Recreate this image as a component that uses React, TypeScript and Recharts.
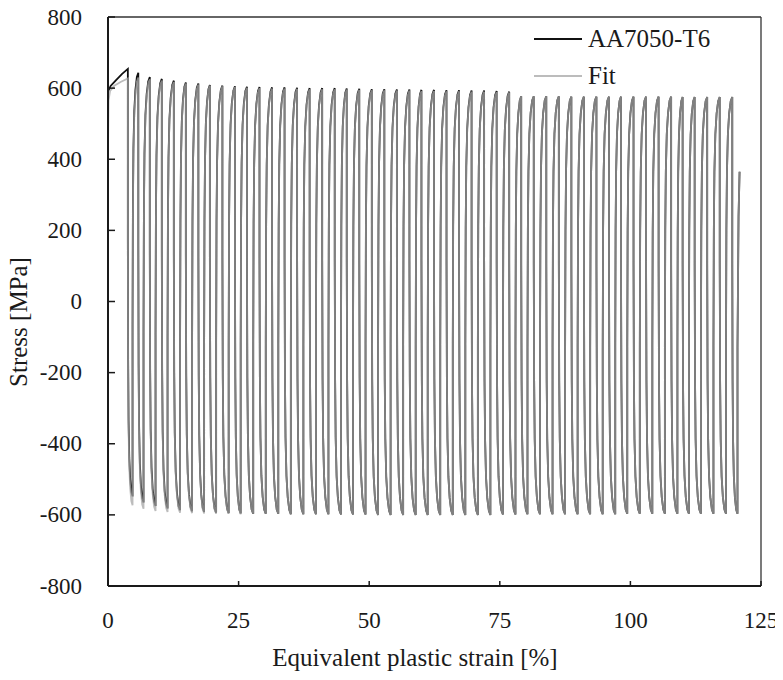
import { LineChart, Line, XAxis, YAxis, ReferenceLine, Legend } from 'recharts';

// equivalent plastic strain [%] at each tensile peak / compressive trough
const peakStrain = [
  3.8, 5.8, 8.0, 10.3, 12.6, 14.9, 17.3, 19.5, 21.9, 24.3,
  26.6, 29.0, 31.4, 33.8, 36.2, 38.6, 41.0, 43.4, 45.7, 48.1,
  50.5, 52.9, 55.3, 57.7, 60.0, 62.4, 64.8, 67.2, 69.6, 72.0,
  74.4, 76.8, 79.1, 81.5, 83.9, 86.3, 88.7, 91.1, 93.5, 95.9,
  98.2, 100.6, 103.0, 105.4, 107.8, 110.0, 112.3, 114.7, 117.1, 119.5,
];
const troughStrain = [
  4.7, 6.8, 9.1, 11.4, 13.8, 16.1, 18.4, 20.7, 23.1, 25.4,
  27.8, 30.2, 32.6, 35.0, 37.4, 39.8, 42.2, 44.6, 46.9, 49.3,
  51.7, 54.1, 56.5, 58.9, 61.2, 63.6, 66.0, 68.4, 70.8, 73.2,
  75.6, 78.0, 80.3, 82.7, 85.1, 87.5, 89.9, 92.3, 94.7, 97.1,
  99.4, 101.8, 104.2, 106.6, 109.0, 111.2, 113.5, 115.9, 118.3, 120.5,
];

// AA7050-T6 test, stress [MPa]
const expPeak = [
  654, 643, 631, 626, 621, 616, 613, 609, 607, 605,
  604, 603, 602, 602, 601, 600, 600, 600, 599, 598,
  597, 597, 596, 596, 595, 595, 594, 594, 593, 593,
  592, 590, 577, 577, 577, 577, 576, 576, 576, 576,
  576, 576, 576, 576, 576, 575, 575, 575, 575, 575,
];
const expTrough = [
  -548, -565, -575, -582, -587, -590, -592, -594, -595, -596,
  -597, -597, -597, -598, -598, -598, -598, -599, -599, -599,
  -600, -600, -600, -600, -600, -600, -600, -600, -600, -600,
  -599, -599, -598, -598, -598, -598, -598, -598, -598, -598,
  -597, -597, -597, -597, -597, -597, -597, -597, -597, -597,
];

// model fit, stress [MPa]
const fitPeak = [
  627, 630, 625, 621, 617, 613, 610, 607, 605, 603,
  601, 600, 599, 599, 598, 597, 597, 597, 596, 595,
  594, 594, 593, 593, 592, 592, 591, 591, 590, 590,
  589, 588, 577, 577, 577, 577, 576, 576, 576, 576,
  576, 576, 576, 576, 576, 575, 575, 575, 575, 575,
];
const fitTrough = [
  -573, -583, -589, -592, -594, -595, -596, -597, -597, -598,
  -597, -597, -597, -598, -598, -598, -598, -599, -599, -599,
  -600, -600, -600, -600, -600, -600, -600, -600, -600, -600,
  -599, -599, -598, -598, -598, -598, -598, -598, -598, -598,
  -597, -597, -597, -597, -597, -597, -597, -597, -597, -597,
];

// first (monotonic) loading up to the first peak
const expLoadStrain = [0, 0, 0.5, 1.5, 2.7];
const expLoadStress = [430, 590, 606, 622, 640];
const fitLoadStrain = [0, 0.1, 0.4, 1.2, 2.5];
const fitLoadStress = [430, 565, 592, 607, 618];

// last, unfinished reloading after the final trough
const tailStrain = [120.5, 120.7, 120.9];
const tailStress = [-130, 240, 365];

// shape of one reversal: elastic jump, then hardening that saturates at the next extreme
const halfStrainFrac = [0, 0, 0.06, 0.15, 0.3, 0.5, 0.75, 1];
const halfStressFrac = [0, 0.4, 0.68, 0.82, 0.91, 0.96, 0.99, 1];

const xTicks = [0, 25, 50, 75, 100, 125];
const yTicks = [-800, -600, -400, -200, 0, 200, 400, 600, 800];

type Pt = { x: number; y: number };

const reversal = (x0: number, y0: number, x1: number, y1: number): Pt[] =>
  halfStrainFrac.slice(1).map((u, j) => ({
    x: x0 + u * (x1 - x0),
    y: y0 + halfStressFrac[j + 1] * (y1 - y0),
  }));

function buildCurve(loadX: number[], loadY: number[], peaks: number[], troughs: number[]): Pt[] {
  const pts: Pt[] = loadX.map((x, i) => ({ x, y: loadY[i] }));
  pts.push({ x: peakStrain[0], y: peaks[0] });
  for (let i = 0; i < peaks.length; i++) {
    pts.push(...reversal(peakStrain[i], peaks[i], troughStrain[i], troughs[i]));
    if (i < peaks.length - 1) {
      pts.push(...reversal(troughStrain[i], troughs[i], peakStrain[i + 1], peaks[i + 1]));
    }
  }
  tailStrain.forEach((x, i) => pts.push({ x, y: tailStress[i] }));
  return pts;
}

const expData = buildCurve(expLoadStrain, expLoadStress, expPeak, expTrough);
const fitData = buildCurve(fitLoadStrain, fitLoadStress, fitPeak, fitTrough);

const FONT = "'Liberation Serif', 'Times New Roman', Tinos, 'DejaVu Serif', serif";
const INK = '#1a1a1a';
const tickStyle = { fontFamily: FONT, fontSize: 23, fill: INK };
const titleStyle = { fontFamily: FONT, fontSize: 25, fill: INK };

const YTick = ({ x, y, payload }: any) => (
  <g>
    <line x1={x} x2={x + 7} y1={y} y2={y} stroke={INK} strokeWidth={1.5} />
    <text x={x - 26} y={y} textAnchor="end" dominantBaseline="central" style={tickStyle}>
      {payload.value}
    </text>
  </g>
);

const XTick = ({ x, y, payload }: any) => (
  <g>
    <line x1={x} x2={x} y1={y} y2={y - 5} stroke={INK} strokeWidth={1.5} />
    <text x={x} y={y + 34} textAnchor="middle" dominantBaseline="central" style={tickStyle}>
      {payload.value}
    </text>
  </g>
);

const XTitle = () => (
  <text x={415} y={657} textAnchor="middle" dominantBaseline="central" style={titleStyle}>
    Equivalent plastic strain [%]
  </text>
);

const YTitle = () => (
  <text x={18} y={322} transform="rotate(-90 18 322)" textAnchor="middle" dominantBaseline="central" style={titleStyle}>
    Stress [MPa]
  </text>
);

const LegendBox = () => (
  <div style={{ fontFamily: FONT, fontSize: 25, color: INK }}>
    {[
      { name: 'AA7050-T6', color: '#111' },
      { name: 'Fit', color: '#bcbcbc' },
    ].map((s) => (
      <div key={s.name} style={{ display: 'flex', alignItems: 'center', height: 37 }}>
        <span style={{ display: 'inline-block', width: 48, height: 2, background: s.color, marginRight: 6 }} />
        <span>{s.name}</span>
      </div>
    ))}
  </div>
);

export default function App() {
  return (
    <div style={{ width: 783, height: 680, margin: -8, fontFamily: FONT }}>
      <LineChart width={783} height={680} margin={{ top: 17, right: 22, bottom: 0, left: 0 }}>
        <XAxis
          type="number"
          dataKey="x"
          domain={[0, 125]}
          ticks={xTicks}
          height={94}
          tickSize={0}
          tickMargin={0}
          tick={<XTick />}
          axisLine={{ stroke: INK, strokeWidth: 2 }}
          label={<XTitle />}
        />
        <YAxis
          type="number"
          domain={[-800, 800]}
          ticks={yTicks}
          width={108}
          tickSize={0}
          tickMargin={0}
          tick={<YTick />}
          axisLine={{ stroke: INK, strokeWidth: 2 }}
          label={<YTitle />}
        />
        <ReferenceLine y={800} stroke="#333" strokeWidth={1.3} />
        <ReferenceLine x={125} stroke="#333" strokeWidth={1.3} />
        <Legend
          verticalAlign="middle"
          align="center"
          content={() => <LegendBox />}
          wrapperStyle={{ left: 534, top: 20, width: 230 }}
        />
        <Line
          data={expData}
          dataKey="y"
          type="linear"
          stroke="#111"
          strokeWidth={1.8}
          dot={false}
          activeDot={false}
          isAnimationActive={false}
        />
        <Line
          data={fitData}
          dataKey="y"
          type="linear"
          stroke="#a5a5a5"
          strokeOpacity={0.75}
          strokeWidth={1.8}
          dot={false}
          activeDot={false}
          isAnimationActive={false}
        />
      </LineChart>
    </div>
  );
}
